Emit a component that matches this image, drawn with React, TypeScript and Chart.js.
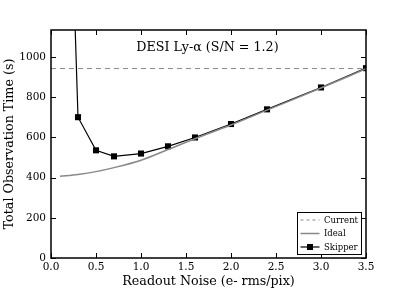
import React, { useEffect, useRef } from "react";
import { Chart, registerables } from "chart.js";

Chart.register(...registerables);

const noiseX = [0.2, 0.3, 0.5, 0.7, 1.0, 1.3, 1.6, 2.0, 2.4, 3.0, 3.5];
const skipperY = [2100, 701, 536, 506, 520, 556, 600, 667, 740, 849, 945];
const idealX = [0.1, 0.3, 0.5, 0.7, 1.0, 1.3, 1.6, 2.0, 2.4, 3.0, 3.5];
const idealY = [407, 416, 430, 450, 487, 540, 594, 662, 736, 846, 942];
const currentX = [0, 3.5];
const currentY = [943, 943];
const xTicks = [0, 0.5, 1.0, 1.5, 2.0, 2.5, 3.0, 3.5];
const yTicks = [0, 200, 400, 600, 800, 1000];

const FONT = "'DejaVu Serif', serif";

const framePlugin = {
  id: "frame",
  afterDraw(chart: any) {
    const { ctx, chartArea: a, scales } = chart;
    ctx.save();
    ctx.strokeStyle = "#000";
    ctx.lineWidth = 1;
    const tl = 5;
    ctx.beginPath();
    for (const v of xTicks) {
      const px = Math.round(scales.x.getPixelForValue(v)) + 0.5;
      ctx.moveTo(px, a.top);
      ctx.lineTo(px, a.top + tl);
      ctx.moveTo(px, a.bottom);
      ctx.lineTo(px, a.bottom - tl);
    }
    for (const v of yTicks) {
      const py = Math.round(scales.y.getPixelForValue(v)) + 0.5;
      ctx.moveTo(a.left, py);
      ctx.lineTo(a.left + tl, py);
      ctx.moveTo(a.right, py);
      ctx.lineTo(a.right - tl, py);
    }
    ctx.stroke();
    ctx.lineWidth = 1.5;
    ctx.strokeRect(a.left, a.top, a.right - a.left, a.bottom - a.top);

    // in-plot title
    ctx.fillStyle = "#000";
    ctx.font = `12.7px ${FONT}`;
    ctx.textAlign = "center";
    ctx.textBaseline = "middle";
    ctx.fillText("DESI Ly-\u03b1 (S/N = 1.2)", (a.left + a.right) / 2 - 1, 48);

    // axis titles
    ctx.font = `12.7px ${FONT}`;
    ctx.fillText("Readout Noise (e- rms/pix)", (a.left + a.right) / 2, 282);
    ctx.save();
    ctx.translate(10, (a.top + a.bottom) / 2);
    ctx.rotate(-Math.PI / 2);
    ctx.fillText("Total Observation Time (s)", 0, 0);
    ctx.restore();

    // legend
    const lx = 297.5, ly = 212.5, lw = 64, lh = 42;
    ctx.fillStyle = "#fff";
    ctx.fillRect(lx, ly, lw, lh);
    ctx.lineWidth = 1;
    ctx.strokeStyle = "#000";
    ctx.strokeRect(lx, ly, lw, lh);
    const rows = [
      { label: "Current", color: "#888", dash: [3, 3], width: 1, marker: false },
      { label: "Ideal", color: "#888", dash: [], width: 1.5, marker: false },
      { label: "Skipper", color: "#000", dash: [], width: 1.2, marker: true },
    ];
    ctx.font = `8.5px ${FONT}`;
    ctx.textAlign = "left";
    rows.forEach((r, i) => {
      const y = ly + 7.5 + i * 13.5;
      ctx.strokeStyle = r.color;
      ctx.lineWidth = r.width;
      ctx.setLineDash(r.dash);
      ctx.beginPath();
      ctx.moveTo(lx + 3, y);
      ctx.lineTo(lx + 22, y);
      ctx.stroke();
      ctx.setLineDash([]);
      if (r.marker) {
        ctx.fillStyle = "#000";
        ctx.fillRect(lx + 12.5 - 3, y - 3, 6, 6);
      }
      ctx.fillStyle = "#000";
      ctx.fillText(r.label, lx + 26.5, y + 0.5);
    });
    ctx.restore();
  },
};

export default function App() {
  const ref = useRef<HTMLCanvasElement>(null);
  useEffect(() => {
    document.body.style.margin = "0";
    const chart = new Chart(ref.current!, {
      type: "line",
      data: {
        datasets: [
          {
            label: "Current",
            data: currentX.map((x, i) => ({ x, y: currentY[i] })),
            borderColor: "#888",
            borderWidth: 1,
            borderDash: [5, 4],
            pointRadius: 0,
          },
          {
            label: "Ideal",
            data: idealX.map((x, i) => ({ x, y: idealY[i] })),
            borderColor: "#888",
            borderWidth: 1.5,
            pointRadius: 0,
            cubicInterpolationMode: "monotone",
          },
          {
            label: "Skipper",
            data: noiseX.map((x, i) => ({ x, y: skipperY[i] })),
            borderColor: "#000",
            backgroundColor: "#000",
            borderWidth: 1.2,
            pointStyle: "rect",
            pointRadius: 4.3,
            pointBorderWidth: 0,
          },
        ],
      },
      options: {
        animation: false,
        responsive: false,
        events: [],
        layout: { padding: { top: 30, right: 41, left: 0, bottom: 0 } },
        plugins: { legend: { display: false }, tooltip: { enabled: false } },
        scales: {
          x: {
            type: "linear",
            min: 0,
            max: 3.5,
            afterBuildTicks: (s: any) => {
              s.ticks = xTicks.map((v) => ({ value: v }));
            },
            afterFit: (s: any) => {
              s.height = 47;
            },
            grid: { display: false, drawTicks: false },
            border: { display: false },
            ticks: {
              padding: 3,
              color: "#000",
              font: { family: FONT, size: 10.5 },
              maxRotation: 0,
              autoSkip: false,
              callback: (v: any) => Number(v).toFixed(1),
            },
          },
          y: {
            type: "linear",
            min: 0,
            max: 1135,
            afterBuildTicks: (s: any) => {
              s.ticks = yTicks.map((v) => ({ value: v }));
            },
            afterFit: (s: any) => {
              s.width = 51;
            },
            grid: { display: false, drawTicks: false },
            border: { display: false },
            ticks: {
              padding: 5,
              color: "#000",
              font: { family: FONT, size: 10.5 },
              autoSkip: false,
              callback: (v: any) => String(v),
            },
          },
        },
      },
      plugins: [framePlugin],
    } as any);
    return () => chart.destroy();
  }, []);
  return (
    <div style={{ width: 407, height: 305 }}>
      <canvas ref={ref} width={407} height={305} style={{ display: "block" }} />
    </div>
  );
}
